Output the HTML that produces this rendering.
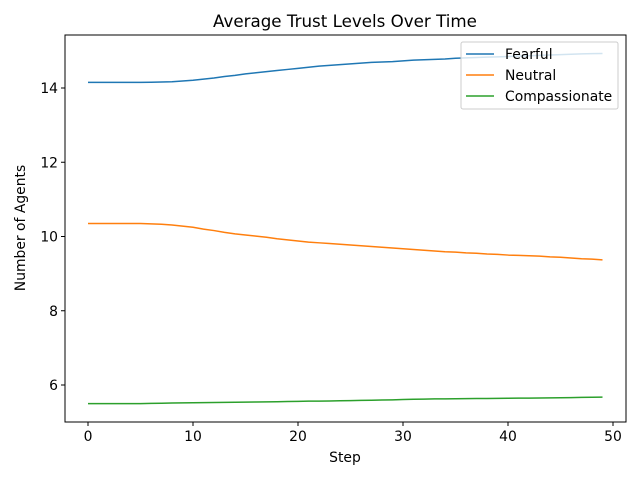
<!DOCTYPE html>
<html><head><meta charset="utf-8"><style>
body{margin:0;background:#fff;font-family:"DejaVu Sans","Liberation Sans",sans-serif}
svg text{font-family:"DejaVu Sans","Liberation Sans",sans-serif}
</style></head><body>
<svg id="chart" width="640" height="480" xmlns="http://www.w3.org/2000/svg"></svg>
<script>
const steps=[...Array(50).keys()];
const fearful=[14.15,14.15,14.15,14.15,14.15,14.15,14.155,14.16,14.17,14.19,14.21,14.24,14.27,14.31,14.34,14.38,14.41,14.44,14.47,14.5,14.53,14.56,14.59,14.61,14.63,14.65,14.67,14.69,14.7,14.71,14.73,14.75,14.76,14.77,14.78,14.8,14.81,14.82,14.83,14.84,14.85,14.86,14.87,14.88,14.89,14.9,14.91,14.92,14.925,14.93];
const neutral=[10.35,10.35,10.35,10.35,10.35,10.35,10.34,10.33,10.31,10.28,10.25,10.2,10.16,10.11,10.07,10.04,10.01,9.98,9.94,9.91,9.88,9.85,9.83,9.81,9.79,9.77,9.75,9.73,9.71,9.69,9.67,9.65,9.63,9.61,9.59,9.58,9.56,9.55,9.53,9.52,9.5,9.49,9.48,9.47,9.45,9.44,9.42,9.4,9.39,9.37];
const compassionate=[5.5,5.5,5.5,5.5,5.5,5.5,5.505,5.51,5.515,5.52,5.523,5.526,5.53,5.533,5.536,5.54,5.543,5.546,5.55,5.555,5.56,5.565,5.565,5.57,5.575,5.58,5.585,5.59,5.595,5.6,5.61,5.615,5.62,5.625,5.627,5.63,5.632,5.635,5.638,5.64,5.642,5.645,5.648,5.65,5.652,5.655,5.66,5.665,5.67,5.675];
const xTicks=[0,10,20,30,40,50];
const yTicks=[6,8,10,12,14];
const L=65,R=626,T=35,B=422;
const x=v=>88+v*10.5;
const y=v=>385-(v-6)*37.125;
const svg=document.getElementById('chart');
const NS='http://www.w3.org/2000/svg';
function mk(tag,attrs,text){const e=document.createElementNS(NS,tag);for(const k in attrs)e.setAttribute(k,attrs[k]);if(text!==undefined)e.textContent=text;svg.appendChild(e);return e;}
let e;
e=mk('text',{x:345,y:27,'text-anchor':'middle','font-size':16.7},'Average Trust Levels Over Time');


xTicks.forEach(t=>{
 e=mk('line',{x1:x(t),x2:x(t),y1:B,y2:B+4,stroke:'#000'});
 
 
 e=mk('text',{x:x(t),y:B+19,'text-anchor':'middle','font-size':13.9},t);
 
 
});
yTicks.forEach(t=>{
 e=mk('line',{x1:L-4,x2:L,y1:y(t),y2:y(t),stroke:'#000'});
 
 
 e=mk('text',{x:L-7,y:y(t)+5,'text-anchor':'end','font-size':13.9},t);
 
 
});
e=mk('text',{x:345,y:462,'text-anchor':'middle','font-size':13.9},'Step');


e=mk('text',{x:25,y:228,'text-anchor':'middle','font-size':13.9,transform:'rotate(-90 25 228)'},'Number of Agents');


const series=[['fearful',fearful,'#1f77b4','Fearful'],['neutral',neutral,'#ff7f0e','Neutral'],['compassionate',compassionate,'#2ca02c','Compassionate']];
series.forEach(s=>{
 e=mk('polyline',{points:steps.map((st,i)=>x(st)+','+y(s[1][i])).join(' '),fill:'none',stroke:s[2],'stroke-width':1.5});
 
 
});
e=mk('rect',{x:L,y:T,width:R-L,height:B-T,fill:'none',stroke:'#000','stroke-width':1});


e=mk('rect',{x:461,y:42,width:157,height:67,fill:'#fff','fill-opacity':0.8,stroke:'#ccc',rx:2});


series.forEach((s,i)=>{
 const ly=54+i*21;
 e=mk('line',{x1:466,x2:494,y1:ly,y2:ly,stroke:s[2],'stroke-width':1.5});
 
 
 e=mk('text',{x:505,y:ly+5,'font-size':13.9},s[3]);
 
 
});
</script>
</body></html>
